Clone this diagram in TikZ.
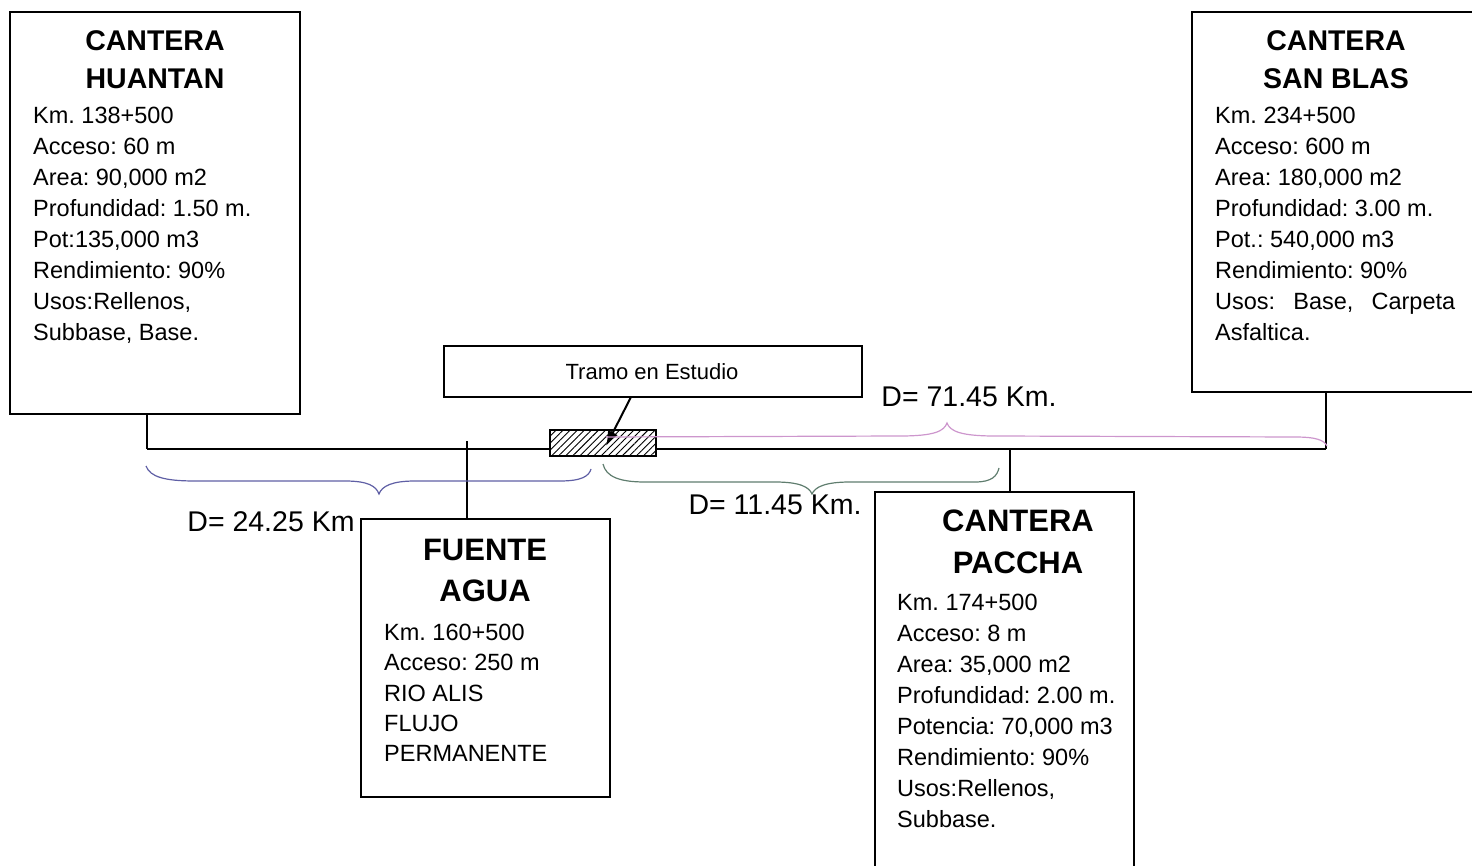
\documentclass[tikz,border=0pt]{standalone}
\usepackage{fontspec}
\setmainfont{Liberation Sans}
\usetikzlibrary{patterns.meta,arrows.meta}
\definecolor{brPink}{RGB}{205,150,205}
\definecolor{brBlue}{RGB}{95,95,165}
\definecolor{brGreen}{RGB}{95,125,110}
\begin{document}
\frenchspacing
\begin{tikzpicture}[x=1pt,y=-1pt,
  box/.style={draw, line width=1.6pt, inner sep=0pt, outer sep=0pt, anchor=north west},
  titleA/.style={font=\bfseries\fontsize{28.5}{38}\selectfont, align=center, inner sep=0pt, anchor=north},
  titleB/.style={font=\bfseries\fontsize{31}{42}\selectfont, align=center, inner sep=0pt, anchor=north},
  body/.style={font=\frenchspacing\fontsize{23.5}{31}\selectfont, align=left, inner sep=0pt, anchor=north west},
  dlabel/.style={font=\fontsize{28.5}{34}\selectfont, inner sep=0pt},
  wire/.style={line width=1.5pt},
  brace/.style={line width=1.2pt}]
\useasboundingbox (0,0) rectangle (1472,866);

% boxes
\node[box, minimum width=290pt, minimum height=402pt] (huantan) at (10,12) {};
\node[box, minimum width=300pt, minimum height=380pt] (sanblas) at (1192,12) {};
\node[box, minimum width=249pt, minimum height=278pt] (fuente) at (361,519) {};
\node[box, minimum width=259pt, minimum height=400pt] (paccha) at (875,492) {};
\node[box, minimum width=418pt, minimum height=51pt] (lbl) at (444,346) {};
\node[box, line width=1.4pt, pattern={Lines[angle=45,distance=5pt,line width=0.9pt]}, minimum width=106pt, minimum height=26pt] (tramo) at (550,430) {};

% texts
\node[titleA] (huantanT) at (155,30) {CANTERA\\HUANTAN};
\node[body] (huantanB) at (33,107) {Km. 138+500\\Acceso: 60 m\\Area: 90,000 m2\\Profundidad: 1.50 m.\\Pot:135,000 m3\\Rendimiento: 90\%\\Usos:Rellenos,\\Subbase, Base.};

\node[titleA] (sanblasT) at (1336,30) {CANTERA\\SAN BLAS};
\node[body] (sanblasB) at (1215,107) {Km. 234+500\\Acceso: 600 m\\Area: 180,000 m2\\Profundidad: 3.00 m.\\Pot.: 540,000 m3\\Rendimiento: 90\%\\\makebox[240pt][s]{Usos: Base, Carpeta}\\Asfaltica.};

\node[titleB, font=\bfseries\fontsize{31}{41}\selectfont] (fuenteT) at (485,539) {FUENTE\\AGUA};
\node[body, font=\frenchspacing\fontsize{23.5}{30.3}\selectfont] (fuenteB) at (384,624) {Km. 160+500\\Acceso: 250 m\\RIO ALIS\\FLUJO\\PERMANENTE};

\node[titleB] (pacchaT) at (1018,510) {CANTERA\\PACCHA};
\node[body] (pacchaB) at (897,594) {Km. 174+500\\Acceso: 8 m\\Area: 35,000 m2\\Profundidad: 2.00 m.\\Potencia: 70,000 m3\\Rendimiento: 90\%\\Usos:Rellenos,\\Subbase.};

\node[font=\fontsize{22}{26}\selectfont, inner sep=0pt] (lblT) at (652,372) {Tramo en Estudio};

\node[dlabel] (d1) at (271,522) {D= 24.25 Km};
\node[dlabel] (d2) at (969,397) {D= 71.45 Km.};
\node[dlabel] (d3) at (775,505) {D= 11.45 Km.};

% main line and connectors
\coordinate (L) at (147,449);
\coordinate (R) at (1326,449);
\coordinate (fa) at (467,441);
\coordinate (pa) at (1010,449);
\draw[wire] (L) -- (tramo.west |- L);
\draw[wire] (tramo.east |- R) -- (R);
\draw[wire] (L |- huantan.south) -- (L);
\draw[wire] (R |- sanblas.south) -- (R);
\draw[wire] (fa) -- (fa |- fuente.north);
\draw[wire] (pa) -- (pa |- paccha.north);

% arrow
\draw[line width=2pt, -{Latex[length=15pt,width=11pt]}] ([xshift=-22pt]lbl.south) -- ([xshift=3pt,yshift=-3pt]tramo.center);

% braces
\draw[brace, brPink] (606,437) -- (900,436) .. controls (935,436) and (944,431) .. (947,423) .. controls (950,431) and (960,436) .. (995,436) -- (1295,437) .. controls (1316,437) and (1324,440) .. (1327,446);
\draw[brace, brBlue] (146,466) .. controls (150,477) and (165,481) .. (195,481) -- (345,481) .. controls (368,481) and (376,486) .. (379,494) .. controls (382,486) and (392,481) .. (415,481) -- (560,481) .. controls (582,481) and (589,476) .. (591,469);
\draw[brace, brGreen] (603,464) .. controls (606,477) and (620,482) .. (645,482) -- (775,482) .. controls (800,482) and (809,487) .. (812,494) .. controls (815,487) and (825,482) .. (850,482) -- (975,482) .. controls (992,482) and (997,476) .. (999,468);
\end{tikzpicture}
\end{document}
